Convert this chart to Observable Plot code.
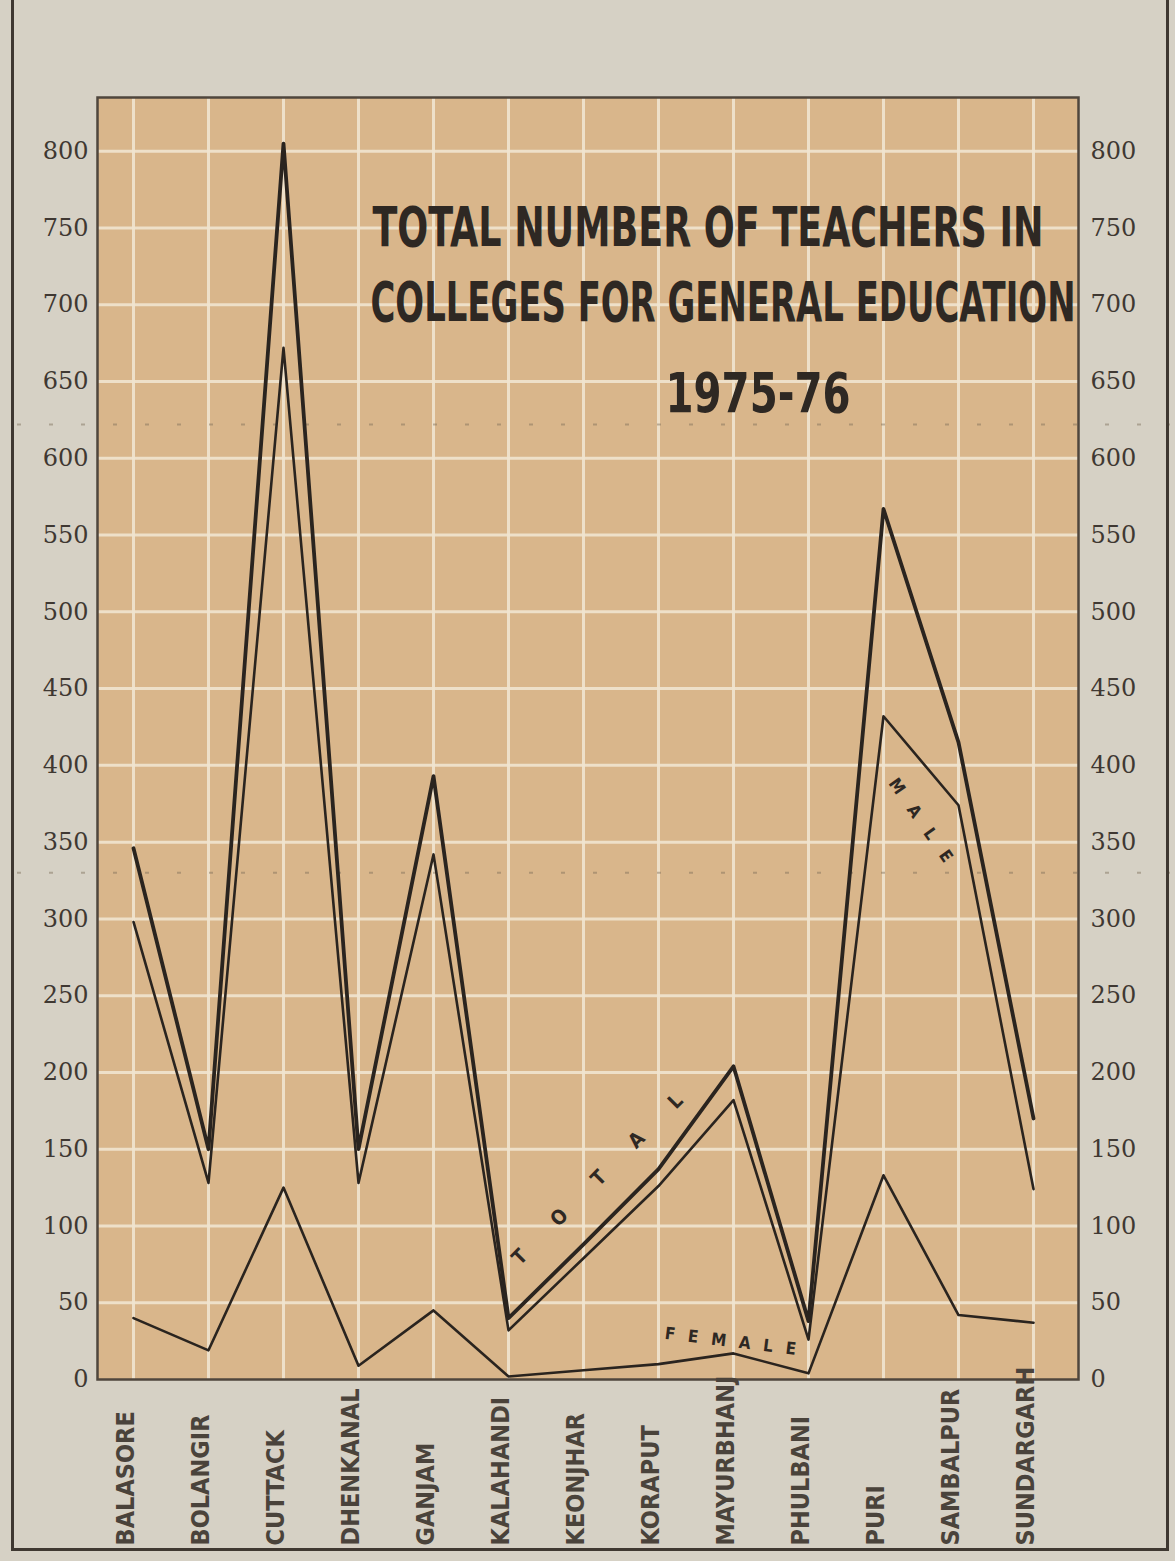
<!DOCTYPE html>
<html>
<head>
<meta charset="utf-8">
<script src="https://cdn.jsdelivr.net/npm/d3@7"></script>
<script src="https://cdn.jsdelivr.net/npm/@observablehq/plot@0.6"></script>
<style>
  html, body { margin: 0; padding: 0; background: #d6d1c5; }
  #wrap { position: relative; width: 1175px; height: 1561px; overflow: hidden; }
  #wrap svg { position: absolute; left: 0; top: 0; }
  #border { position: absolute; left: 11px; top: -4px; width: 1152px; height: 1552px;
            border: 3px solid #3f3831; border-top: none; pointer-events: none; }
</style>
</head>
<body>
<div id="wrap"><div id="border"></div></div>
<script>
// ---- data ----
const districts = ["BALASORE", "BOLANGIR", "CUTTACK", "DHENKANAL", "GANJAM", "KALAHANDI",
  "KEONJHAR", "KORAPUT", "MAYURBHANJ", "PHULBANI", "PURI", "SAMBALPUR", "SUNDARGARH"];
const totalTeachers  = [346, 150, 805, 150, 393, 40, 88, 137, 204, 38, 567, 415, 170];
const maleTeachers   = [298, 128, 672, 128, 342, 32, 79, 126, 182, 26, 432, 374, 124];
const femaleTeachers = [40, 19, 125, 9, 45, 2, 6, 10, 17, 4, 133, 42, 37];
const yTicks = [0, 50, 100, 150, 200, 250, 300, 350, 400, 450, 500, 550, 600, 650, 700, 750, 800];
const titleLines = ["TOTAL NUMBER OF TEACHERS IN", "COLLEGES FOR GENERAL EDUCATION", "1975-76"];
const seriesLabels = ["TOTAL", "MALE", "FEMALE"];
const refLines = [622, 330];

// ---- table built from the arrays ----
const rows = districts.map((d, i) => ({
  district: d, total: totalTeachers[i], male: maleTeachers[i], female: femaleTeachers[i]
}));
const at = (name) => rows.filter(r => r.district === name);

const ink = "#2a241f";
const tan = "#d9b68b";
const grid = "#efe4cf";
const condensed = "'Liberation Sans Narrow', 'DejaVu Sans Condensed', 'DejaVu Sans', sans-serif";

const plot = Plot.plot({
  width: 1175,
  height: 1561,
  marginTop: 97,
  marginBottom: 182,
  marginLeft: 97,
  marginRight: 97,
  style: { background: "transparent", color: "#3f3832", fontFamily: "'DejaVu Serif', serif", fontSize: "24px", overflow: "visible" },
  x: { type: "point", domain: districts, range: [128, 1038], padding: 0, axis: null },
  y: { domain: [0, 835], axis: null },
  marks: [
    Plot.frame({ fill: tan, stroke: null }),
    Plot.ruleY(yTicks.filter(v => v > 0), { y: d => d, stroke: grid, strokeWidth: 3, strokeOpacity: 0.9 }),
    Plot.ruleX(districts, { x: d => d, stroke: grid, strokeWidth: 3, strokeOpacity: 0.9 }),
    Plot.ruleY(refLines, { y: d => d, stroke: "#7a6a56", strokeWidth: 2, strokeDasharray: "4,28",
      strokeOpacity: 0.45, insetLeft: -80, insetRight: -92 }),
    Plot.line(rows, { x: "district", y: "female", stroke: ink, strokeWidth: 2.6 }),
    Plot.line(rows, { x: "district", y: "male", stroke: ink, strokeWidth: 2.6 }),
    Plot.line(rows, { x: "district", y: "total", stroke: ink, strokeWidth: 3.8 }),
    Plot.frame({ stroke: "#4f463d", strokeWidth: 2.5 }),
    Plot.axisY({ anchor: "left", ticks: yTicks, tickSize: 0, tickPadding: 9, fontSize: 24 }),
    Plot.axisY({ anchor: "right", ticks: yTicks, tickSize: 0, tickPadding: 12, fontSize: 24 }),
    // district labels, bottom-aligned and reading upward
    Plot.text(districts, { x: d => d, frameAnchor: "bottom", dy: 166, rotate: -90, textAnchor: "start",
      fontFamily: condensed, fontWeight: "bold", fontSize: 25, fill: "#4a433b" }),
    // title inside the plot area
    Plot.text([titleLines[0]], { frameAnchor: "top-left", dx: 275, dy: 109, textAnchor: "start",
      fontFamily: condensed, fontWeight: "bold", fontSize: 55, fill: "#2e2823" }),
    Plot.text([titleLines[1]], { frameAnchor: "top-left", dx: 273, dy: 184, textAnchor: "start",
      fontFamily: condensed, fontWeight: "bold", fontSize: 55, fill: "#2e2823" }),
    Plot.text([titleLines[2]], { frameAnchor: "top-left", dx: 568, dy: 275, textAnchor: "start",
      fontFamily: condensed, fontWeight: "bold", fontSize: 55, fill: "#2e2823" }),
    // series labels written along the lines
    Plot.text(at("KEONJHAR"), { x: "district", y: "total", text: () => seriesLabels[0], dx: 14, dy: -65,
      rotate: -45, fontFamily: condensed, fontWeight: "bold", fontSize: 20, fill: "#2e2823" }),
    Plot.text(at("PURI"), { x: "district", y: "male", text: () => seriesLabels[1], dx: 37, dy: 104,
      rotate: 55, fontFamily: condensed, fontWeight: "bold", fontSize: 17, fill: "#2e2823" }),
    Plot.text(at("MAYURBHANJ"), { x: "district", y: "female", text: () => seriesLabels[2], dx: -3, dy: -12,
      rotate: 7, fontFamily: condensed, fontWeight: "bold", fontSize: 17, fill: "#2e2823" })
  ]
});

document.getElementById("wrap").insertBefore(plot, document.getElementById("border"));

// stretch the lettering to the widths seen in the reference
const fit = (str, len, adjust) =>
  d3.select(plot).selectAll("text")
    .filter(function () { return this.textContent === str; })
    .attr("textLength", len).attr("lengthAdjust", adjust);
fit(titleLines[0], 671, "spacingAndGlyphs");
fit(titleLines[1], 705, "spacingAndGlyphs");
fit(titleLines[2], 185, "spacingAndGlyphs");
fit(seriesLabels[0], 232, "spacing");
fit(seriesLabels[1], 98, "spacing");
fit(seriesLabels[2], 132, "spacing");
</script>
</body>
</html>
